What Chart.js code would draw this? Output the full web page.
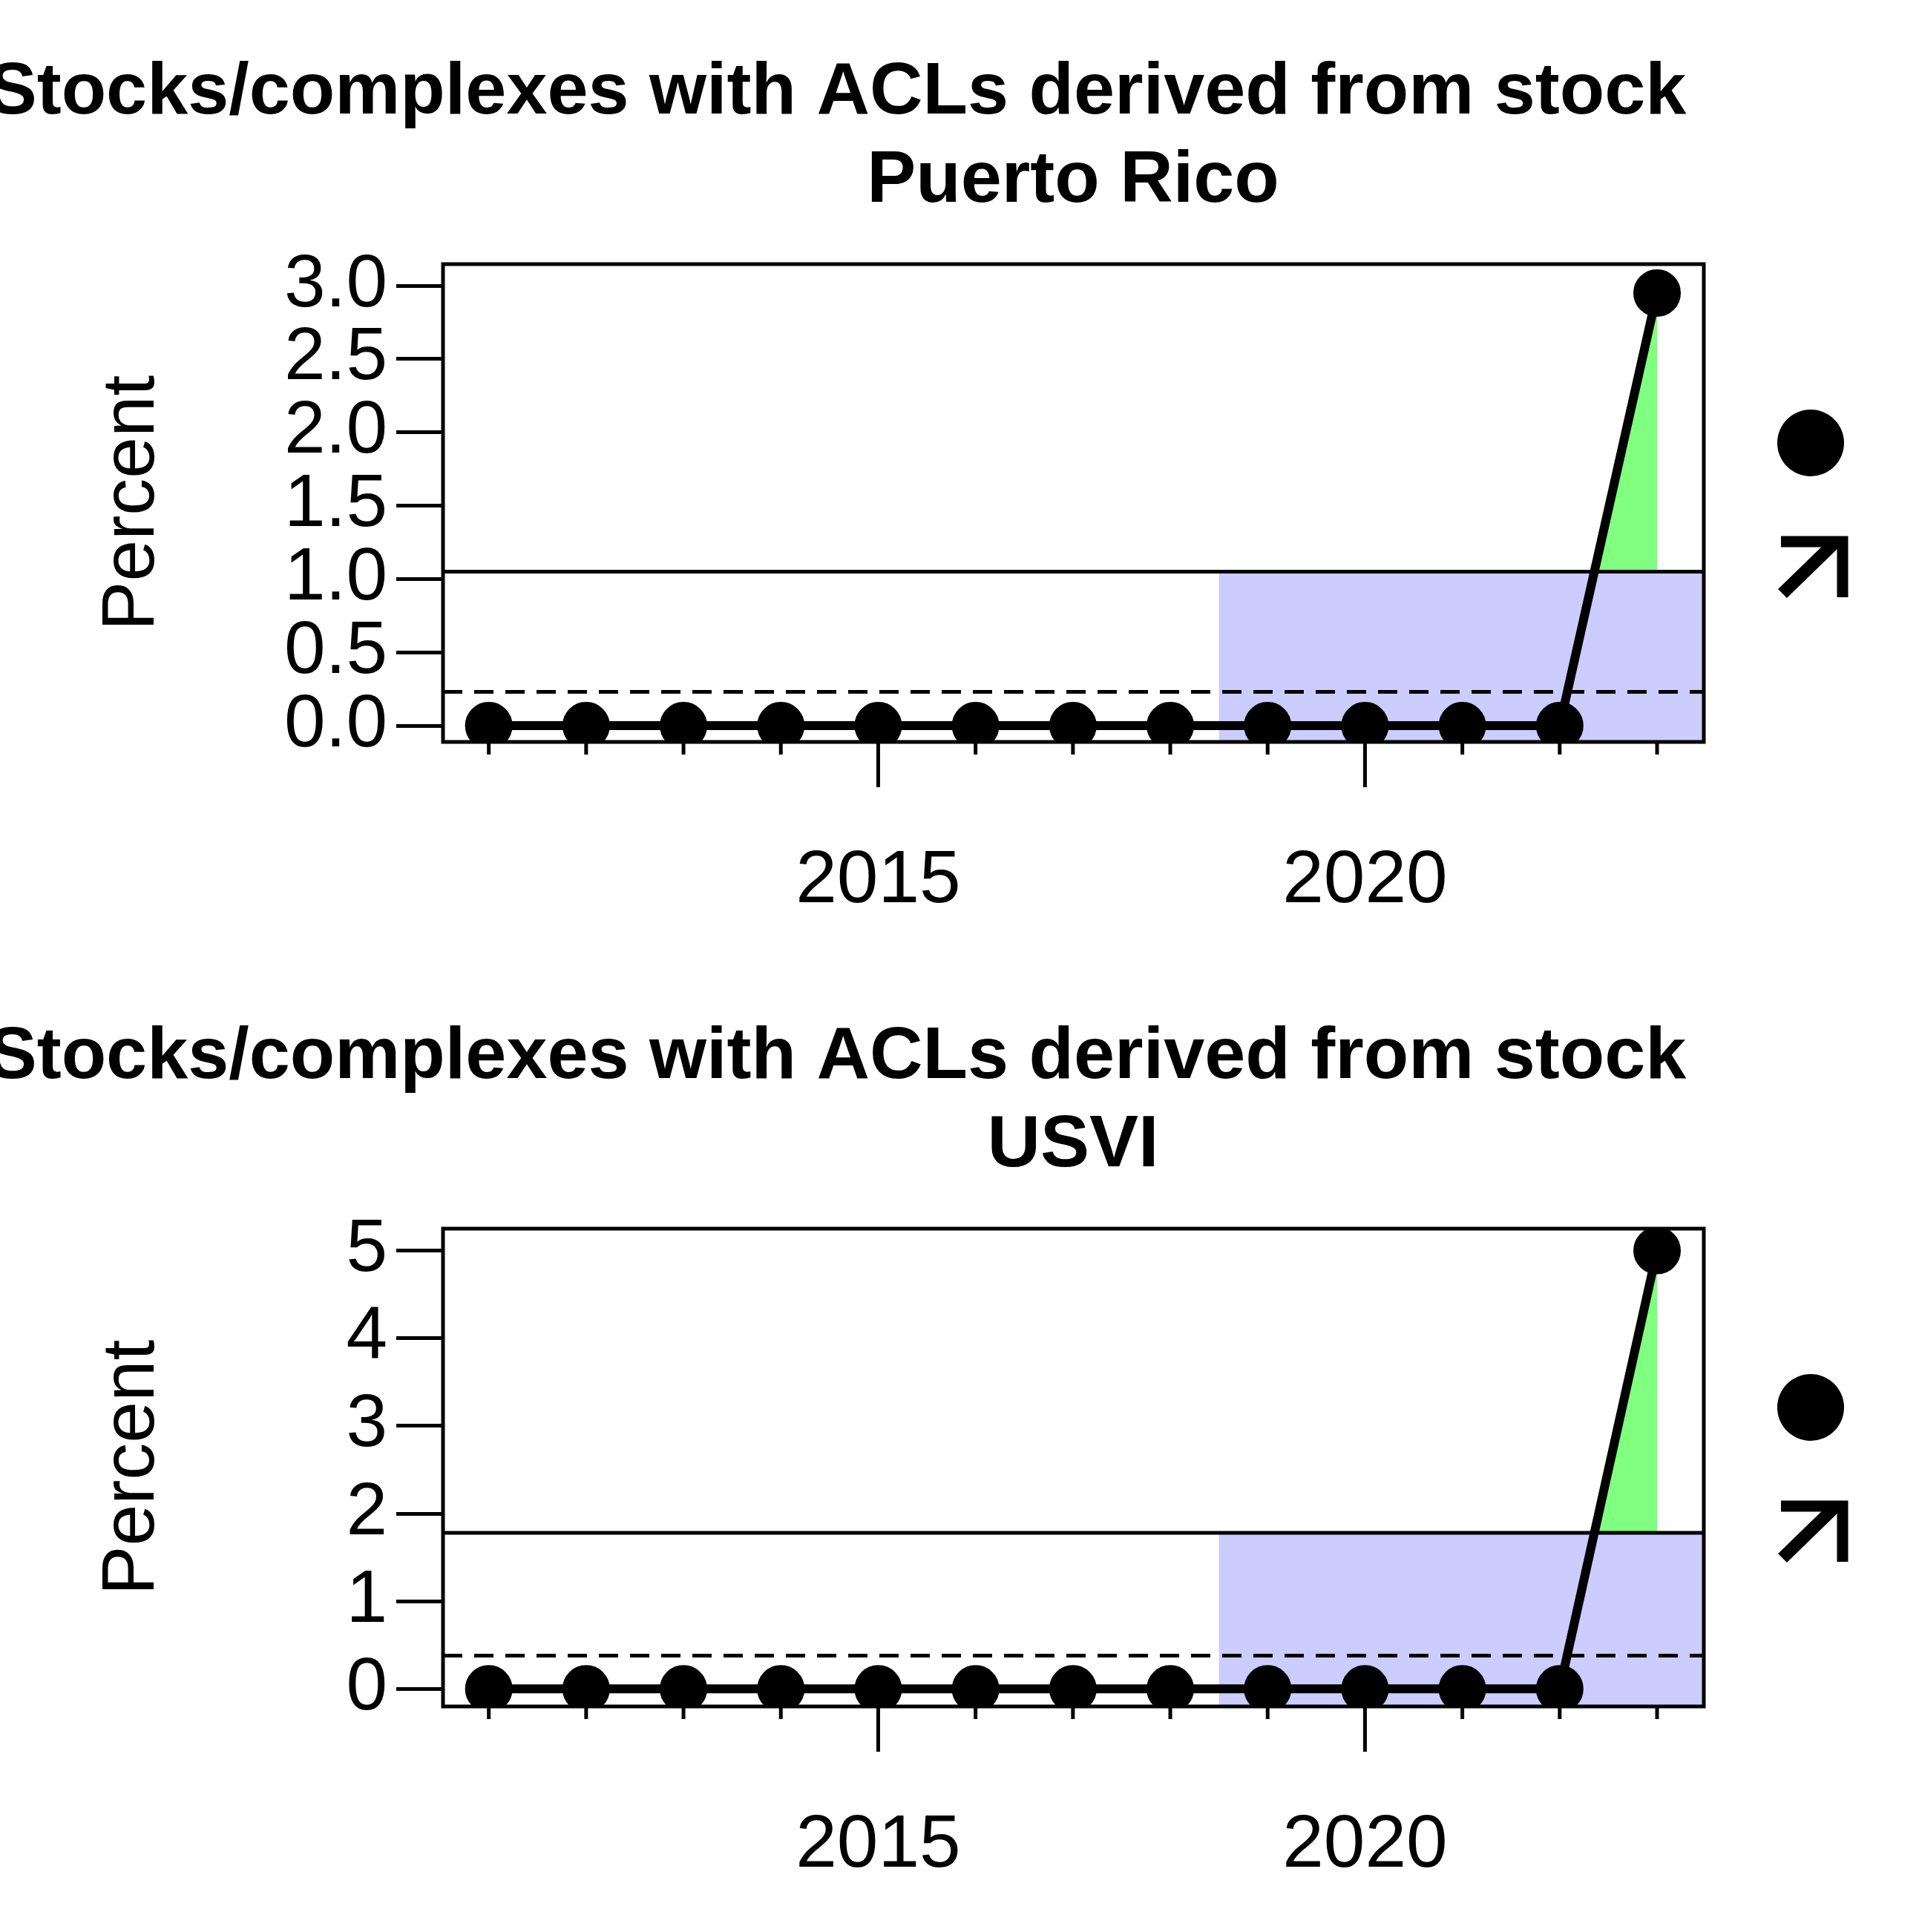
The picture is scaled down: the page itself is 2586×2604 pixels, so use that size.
<!DOCTYPE html>
<html><head><meta charset="utf-8">
<script src="https://cdn.jsdelivr.net/npm/chart.js@4"></script>
<style>
body{margin:0;background:#fff;}
.p{position:absolute;left:0;width:2586px;height:1300px;}
</style></head>
<body>
<div class="p" style="top:0"><canvas id="c1"></canvas></div>
<div class="p" style="top:1300px"><canvas id="c2"></canvas></div>
<script>
const years = [2011,2012,2013,2014,2015,2016,2017,2018,2019,2020,2021,2022,2023];
const prValues = [0,0,0,0,0,0,0,0,0,0,0,0,2.95];
const usviValues = [0,0,0,0,0,0,0,0,0,0,0,0,5];
const prStats = {mean: 1.05, sdLine: 0.23, recentFrom: 2018.5};
const usviStats = {mean: 1.78, sdLine: 0.38, recentFrom: 2018.5};
const prTicks = [0,0.5,1,1.5,2,2.5,3];
const usviTicks = [0,1,2,3,4,5];
const majorYears = [2015,2020];

function makePanel(id, region, values, stats, ticks, ymin, ymax) {
  const deco = {
    id: "deco",
    beforeDatasetsDraw(chart) {
      const {ctx, chartArea: a, scales: {x, y}} = chart;
      const ym = y.getPixelForValue(stats.mean);
      ctx.save();
      ctx.fillStyle = "#ccccff";
      const xb = x.getPixelForValue(stats.recentFrom);
      ctx.fillRect(xb, ym, a.right - xb, a.bottom - ym);
      const n = values.length;
      const x0 = x.getPixelForValue(years[n-2]), y0 = y.getPixelForValue(values[n-2]);
      const x1 = x.getPixelForValue(years[n-1]), y1 = y.getPixelForValue(values[n-1]);
      const t = (stats.mean - values[n-2]) / (values[n-1] - values[n-2]);
      const xc = x0 + t * (x1 - x0);
      ctx.fillStyle = "#80ff80";
      ctx.beginPath(); ctx.moveTo(xc, ym); ctx.lineTo(x1, y1); ctx.lineTo(x1, ym); ctx.closePath(); ctx.fill();
      ctx.strokeStyle = "#000"; ctx.lineWidth = 5;
      ctx.beginPath(); ctx.moveTo(a.left, ym); ctx.lineTo(a.right, ym); ctx.stroke();
      const yd = y.getPixelForValue(stats.sdLine);
      ctx.setLineDash([26, 16]);
      ctx.beginPath(); ctx.moveTo(a.left, yd); ctx.lineTo(a.right, yd); ctx.stroke();
      ctx.setLineDash([]);
      ctx.restore();
    },
    afterDraw(chart) {
      const {ctx, chartArea: a, scales: {x}} = chart;
      ctx.save();
      ctx.strokeStyle = "#000"; ctx.lineWidth = 5;
      ctx.strokeRect(a.left, a.top, a.right - a.left, a.bottom - a.top);
      years.forEach(yr => {
        const px = x.getPixelForValue(yr);
        const len = majorYears.includes(yr) ? 61 : 17;
        ctx.beginPath(); ctx.moveTo(px, a.bottom); ctx.lineTo(px, a.bottom + len); ctx.stroke();
      });
      ctx.fillStyle = "#000"; ctx.textAlign = "center"; ctx.textBaseline = "middle";
      ctx.font = "bold 99px Arial, 'Liberation Sans'";
      ctx.fillText("Stocks/complexes with ACLs derived from stock", 1128, 126);
      ctx.fillText(region, 1446, 245);
      ctx.font = "100px Arial, 'Liberation Sans'";
      ctx.translate(179, (a.top + a.bottom) / 2);
      ctx.rotate(-Math.PI / 2);
      ctx.fillText("Percent", 0, 0);
      ctx.restore();
      ctx.save();
      ctx.fillStyle = "#000"; ctx.strokeStyle = "#000";
      ctx.beginPath(); ctx.arc(2440, 597, 45, 0, 2 * Math.PI); ctx.fill();
      ctx.lineWidth = 17; ctx.lineCap = "butt";
      ctx.beginPath(); ctx.moveTo(2402, 800); ctx.lineTo(2474, 730); ctx.stroke();
      ctx.lineWidth = 15;
      ctx.beginPath(); ctx.moveTo(2400, 730); ctx.lineTo(2483, 730); ctx.lineTo(2483, 805); ctx.stroke();
      ctx.restore();
    }
  };
  new Chart(document.getElementById(id), {
    type: "line",
    data: {
      datasets: [{
        data: years.map((yr, i) => ({x: yr, y: values[i]})),
        borderColor: "#000", backgroundColor: "#000",
        borderWidth: 12, pointRadius: 26, pointHoverRadius: 26
      }]
    },
    options: {
      responsive: false, animation: false,
      layout: {padding: {top: 356, right: 290, left: 0, bottom: 0}},
      plugins: {legend: {display: false}, tooltip: {enabled: false}},
      scales: {
        x: {
          type: "linear", min: 2010.53, max: 2023.48,
          afterBuildTicks: s => { s.ticks = majorYears.map(v => ({value: v})); },
          afterFit: s => { s.height = 300; },
          grid: {display: false}, border: {display: false},
          ticks: {padding: 120, color: "#000", font: {size: 100, family: "Arial, 'Liberation Sans'"}, callback: v => String(v)}
        },
        y: {
          min: ymin, max: ymax,
          afterBuildTicks: s => { s.ticks = ticks.map(v => ({value: v})); },
          afterFit: s => { s.width = 597; },
          grid: {drawOnChartArea: false, drawTicks: true, tickLength: 63, color: "#000", lineWidth: 5},
          border: {display: false},
          ticks: {autoSkip: false, padding: 12, color: "#000", font: {size: 100, family: "Arial, 'Liberation Sans'"},
            callback: v => ticks.every(t => Number.isInteger(t)) ? String(v) : v.toFixed(1)}
        }
      }
    },
    plugins: [deco]
  });
}
document.getElementById("c1").width = 2586; document.getElementById("c1").height = 1300;
document.getElementById("c2").width = 2586; document.getElementById("c2").height = 1300;
makePanel("c1", "Puerto Rico", prValues, prStats, prTicks, -0.111, 3.147);
makePanel("c2", "USVI", usviValues, usviStats, usviTicks, -0.2, 5.25);
</script>
</body></html>
